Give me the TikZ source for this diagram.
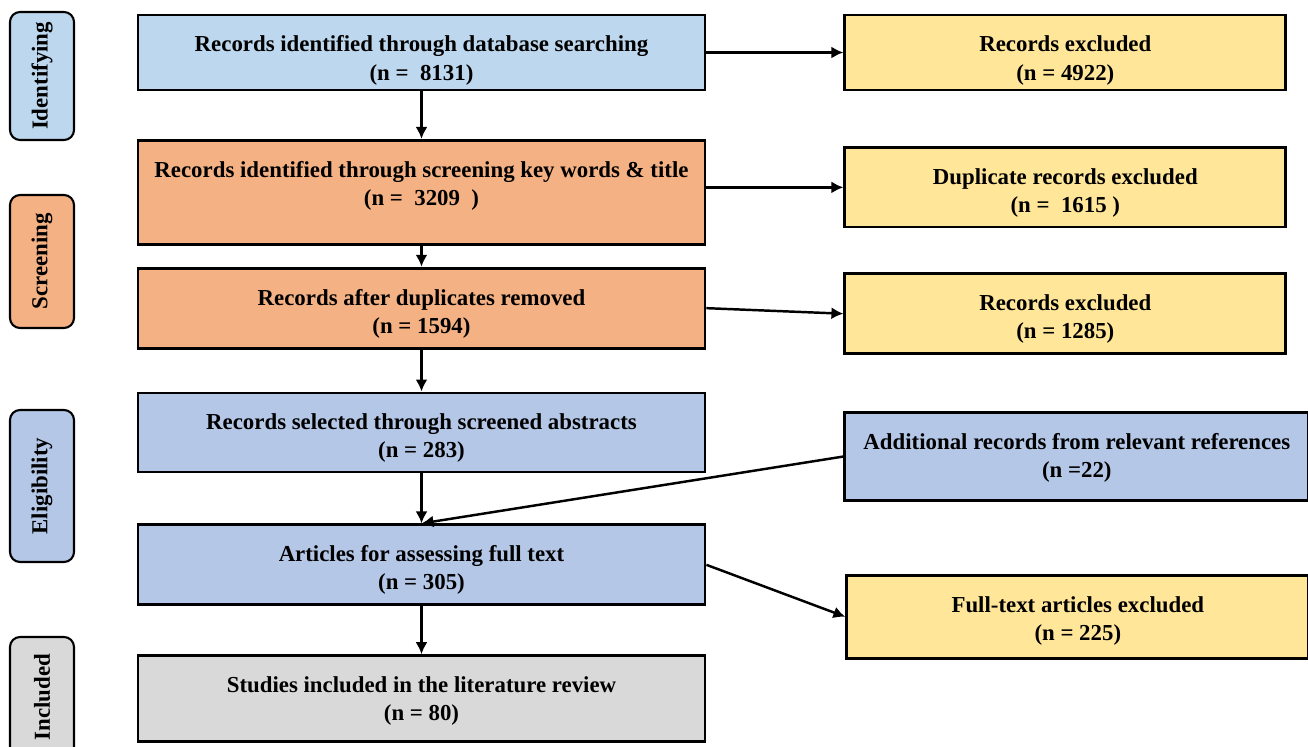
\documentclass[tikz,border=0pt]{standalone}
\usepackage{fontspec}
\setmainfont{Liberation Serif}
\usetikzlibrary{arrows.meta,positioning}
\definecolor{idblue}{HTML}{BDD7EE}
\definecolor{scorange}{HTML}{F4B183}
\definecolor{elblue}{HTML}{B4C7E7}
\definecolor{exyellow}{HTML}{FFE699}
\definecolor{ingray}{HTML}{D9D9D9}

\begin{document}
\begin{tikzpicture}[every node/.style={font=\bfseries\fontsize{13}{16}\selectfont}]
\tikzset{stage/.style={draw, line width=1.6pt, align=center, minimum width=11.34cm,
  inner sep=0pt, text height=37pt},
  side/.style={draw, line width=1.6pt, align=center, fill=exyellow, minimum width=8.82cm,
  inner sep=0pt, text height=37pt},
  phase/.style={draw, line width=1.2pt, rounded corners=0.2cm, rotate=90,
  minimum height=1.28cm, inner sep=0pt},
  flow/.style={-{Latex[length=2.4mm,width=2.4mm]}, line width=1.4pt}}
\useasboundingbox (0,0) rectangle (26.16,-14.92);
% phases
\node[phase, fill=idblue, minimum width=2.56cm] (idph) at (0.84,-1.52) {Identifying};
\node[phase, fill=scorange, minimum width=2.66cm] (scph) at (0.84,-5.23) {Screening};
\node[phase, fill=elblue, minimum width=3.04cm] (elph) at (0.84,-9.72) {Eligibility};
\node[phase, fill=ingray, minimum width=2.4cm] (inph) at (0.84,-13.94) {Included};
% main column
\node[stage, fill=idblue, text depth=5.7pt] (db) at (8.43,-1.05)
  {Records identified through database searching\\(n = ~8131)};
\node[stage, fill=scorange, text depth=22.2pt, below=0.95cm of db] (keyword)
  {Records identified through screening key words \& title\\(n = ~3209 ~)};
\node[stage, fill=scorange, text depth=8.5pt, below=0.42cm of keyword] (dedup)
  {Records after duplicates removed\\(n = 1594)};
\node[stage, fill=elblue, text depth=8pt, below=0.84cm of dedup] (abstract)
  {Records selected through screened abstracts\\(n = 283)};
\node[stage, fill=elblue, text depth=8.5pt, below=1cm of abstract] (fulltext)
  {Articles for assessing full text\\(n = 305)};
\node[stage, fill=ingray, text depth=11.9pt, below=0.96cm of fulltext] (included)
  {Studies included in the literature review\\(n = 80)};
% exclusions
\node[side, text depth=5.7pt, right=2.74cm of db] (excl1) {Records excluded\\(n = 4922)};
\node[side, text depth=8pt, below=1.1cm of excl1] (dupl)
  {Duplicate records excluded\\(n = ~1615~)};
\node[side, text depth=8.5pt, below=0.88cm of dupl] (excl2) {Records excluded\\(n = 1285)};
\node[side, fill=elblue, minimum width=9.28cm, text depth=13.1pt,
  below=1.12cm of excl2.south west, anchor=north west] (addrec)
  {Additional records from relevant references\\(n =22)};
\node[side, minimum width=9.24cm, text depth=10.2pt,
  below=1.44cm of addrec.south west, anchor=north west, xshift=0.04cm] (ftexcl)
  {Full-text articles excluded\\(n = 225)};
% arrows
\draw[flow] (db) -- (keyword);
\draw[flow] (keyword) -- (dedup);
\draw[flow] (dedup) -- (abstract);
\draw[flow] (abstract) -- (fulltext);
\draw[flow] (fulltext) -- (included);
\draw[flow] (db) -- (excl1);
\draw[flow] (keyword.east |- dupl.west) -- (dupl.west);
\draw[flow] (dedup.east) -- (excl2.west);
\draw[flow] (addrec.west) -- (fulltext.north);
\draw[flow] (fulltext.east) -- (ftexcl.west);
\end{tikzpicture}
\end{document}
